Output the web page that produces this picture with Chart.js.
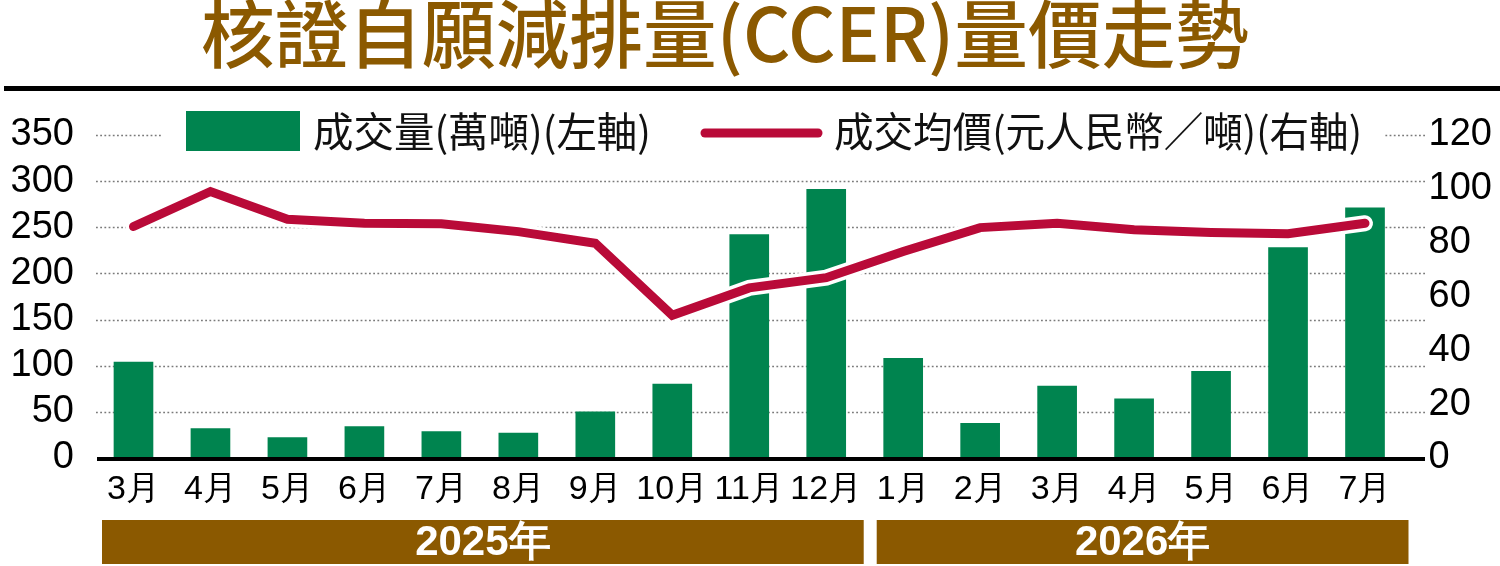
<!DOCTYPE html>
<html>
<head>
<meta charset="utf-8">
<script src="https://cdn.jsdelivr.net/npm/chart.js@4.4.0/dist/chart.umd.min.js"></script>
<style>
  html, body { margin: 0; padding: 0; background: #fff; }
  #wrap { width: 1500px; height: 566px; position: relative; }
</style>
</head>
<body>
<div id="wrap"><canvas id="ccer-chart"></canvas></div>
<script>
// ---- data ----
var titleText = '核證自願減排量(CCER)量價走勢';
var months = ['3月','4月','5月','6月','7月','8月','9月','10月','11月','12月',
              '1月','2月','3月','4月','5月','6月','7月'];
var volume = [104, 32, 22, 34, 28.5, 27, 50, 80, 242, 291, 108, 37.5, 78, 64, 94, 228, 271];
var price  = [86, 99, 88.7, 87.2, 87, 84.1, 79.8, 53, 63.2, 67, 76.7, 85.6, 87.2, 84.8, 83.8, 83.3, 87.2];
var volumeLabel = '成交量(萬噸)(左軸)';
var priceLabel  = '成交均價(元人民幣／噸)(右軸)';
var years = ['2025年', '2026年'];
var yearFirst = [0, 10];   // first month index of each year
var yearLast  = [9, 16];   // last month index of each year
var leftMax = 350, leftStep = 50;
var rightMax = 120, rightStep = 20;

var GREEN = '#00844f';
var RED = '#b90a38';
var BROWN = '#8b5900';
var NUMFONT = '"Liberation Sans", Arial, sans-serif';
var CJKFONT = '"Noto Sans CJK TC", "Noto Sans CJK SC", sans-serif';

// text squeezed/stretched horizontally to a given width
function fitText(ctx, txt, x, y, width, align) {
  var w = ctx.measureText(txt).width;
  var sx = width / w;
  ctx.save();
  ctx.translate(x, y);
  ctx.scale(sx, 1);
  ctx.textAlign = align || 'left';
  ctx.fillText(txt, 0, 0);
  ctx.restore();
}

function tracePath(ctx, meta) {
  ctx.beginPath();
  meta.data.forEach(function(pt, i) {
    if (i === 0) ctx.moveTo(pt.x, pt.y); else ctx.lineTo(pt.x, pt.y);
  });
}

var decorPlugin = {
  id: 'decor',
  beforeDatasetsDraw: function(chart) {
    var ctx = chart.ctx;
    var yl = chart.scales.y;
    ctx.save();
    // dotted grid
    ctx.strokeStyle = '#7a7a7a';
    ctx.lineWidth = 1.6;
    ctx.setLineDash([1.8, 2.4]);
    for (var v = leftStep; v <= leftMax; v += leftStep) {
      var py = Math.round(yl.getPixelForValue(v)) + 0.5;
      ctx.beginPath();
      ctx.moveTo(96, py);
      ctx.lineTo(1425, py);
      ctx.stroke();
    }
    ctx.setLineDash([]);

    // legend (white box over top grid line)
    var ly = yl.getPixelForValue(leftMax);
    ctx.fillStyle = '#fff';
    ctx.fillRect(162, ly - 26, 1222, 52);
    ctx.fillStyle = GREEN;
    ctx.fillRect(186, 111, 114, 40);
    ctx.strokeStyle = RED;
    ctx.lineWidth = 9;
    ctx.lineCap = 'round';
    ctx.beginPath();
    ctx.moveTo(705, 133);
    ctx.lineTo(818, 133);
    ctx.stroke();
    ctx.fillStyle = '#111';
    ctx.font = '41px ' + CJKFONT;
    ctx.textBaseline = 'middle';
    fitText(ctx, volumeLabel, 313, 131, 338, 'left');
    fitText(ctx, priceLabel, 834, 131, 528, 'left');
    ctx.restore();
  },
  beforeDatasetDraw: function(chart, args) {
    if (args.index !== 1) return;
    // white halo under the price line
    var ctx = chart.ctx;
    ctx.save();
    ctx.strokeStyle = '#fff';
    ctx.lineWidth = 16;
    ctx.lineJoin = 'miter';
    ctx.lineCap = 'round';
    tracePath(ctx, chart.getDatasetMeta(1));
    ctx.stroke();
    ctx.restore();
  },
  afterDatasetsDraw: function(chart) {
    var ctx = chart.ctx;
    var yl = chart.scales.y;
    var x = chart.scales.x;
    ctx.save();
    // baseline
    var zy = yl.getPixelForValue(0);
    ctx.fillStyle = '#000';
    ctx.fillRect(97, zy - 1, 1328, 4);

    // title
    ctx.fillStyle = BROWN;
    ctx.font = '500 74px ' + CJKFONT;
    ctx.textBaseline = 'middle';
    fitText(ctx, titleText, 725, 34, 1048, 'center');
    // rule under title
    ctx.fillStyle = '#000';
    ctx.fillRect(4, 86, 1496, 5);

    // year bands
    var half = (x.getPixelForValue(1) - x.getPixelForValue(0)) / 2;
    var pads = [[7, -1], [12, 5]];
    for (var i = 0; i < years.length; i++) {
      var x0 = x.getPixelForValue(yearFirst[i]) - half + pads[i][0];
      var x1 = x.getPixelForValue(yearLast[i]) + half + pads[i][1];
      ctx.fillStyle = BROWN;
      ctx.fillRect(x0, 520, x1 - x0, 44);
      ctx.fillStyle = '#fff';
      ctx.font = 'bold 42px ' + NUMFONT;
      ctx.textAlign = 'center';
      ctx.textBaseline = 'middle';
      ctx.fillText(years[i], (x0 + x1) / 2, 543);
    }
    ctx.restore();
  }
};

var ctx = document.getElementById('ccer-chart');
var ccerChart = new Chart(ctx, {
  type: 'bar',
  data: {
    labels: months,
    datasets: [
      {
        type: 'bar',
        label: volumeLabel,
        data: volume,
        yAxisID: 'y',
        backgroundColor: GREEN,
        barThickness: 39,
        order: 2
      },
      {
        type: 'line',
        label: priceLabel,
        data: price,
        yAxisID: 'y1',
        borderColor: RED,
        borderWidth: 9,
        borderJoinStyle: 'miter',
        borderCapStyle: 'round',
        pointRadius: 0,
        tension: 0,
        fill: false,
        order: 1
      }
    ]
  },
  options: {
    responsive: true,
    maintainAspectRatio: false,
    animation: false,
    devicePixelRatio: 1,
    layout: { padding: { top: 135, bottom: 0, left: 0, right: 0 } },
    plugins: {
      legend: { display: false },
      tooltip: { enabled: false }
    },
    scales: {
      x: {
        grid: { display: false, drawTicks: false },
        border: { display: false },
        ticks: {
          color: '#000',
          padding: 11,
          maxRotation: 0,
          autoSkip: false,
          font: { family: NUMFONT, size: 34 }
        },
        afterFit: function(scale) { scale.height = 108; }
      },
      y: {
        position: 'left',
        min: 0,
        max: leftMax,
        grid: { display: false, drawTicks: false },
        border: { display: false },
        ticks: {
          stepSize: leftStep,
          autoSkip: false,
          color: '#000',
          padding: 21,
          font: { family: NUMFONT, size: 38 }
        },
        afterFit: function(scale) { scale.width = 95; }
      },
      y1: {
        position: 'right',
        min: 0,
        max: rightMax,
        grid: { display: false, drawTicks: false },
        border: { display: false },
        ticks: {
          stepSize: rightStep,
          autoSkip: false,
          color: '#000',
          padding: 25,
          font: { family: NUMFONT, size: 38 }
        },
        afterFit: function(scale) { scale.width = 96.5; }
      }
    }
  },
  plugins: [decorPlugin]
});
</script>
</body>
</html>
